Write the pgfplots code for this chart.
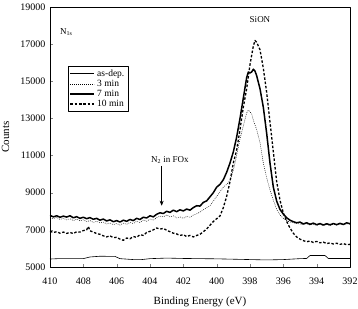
\documentclass[border=0pt]{standalone}
\usepackage{pgfplots}
\pgfplotsset{compat=1.18}
\usetikzlibrary{arrows.meta}
\usepackage{fontspec}
\setmainfont{Liberation Serif}
\begin{document}
\begin{tikzpicture}
\begin{axis}[
  scale only axis, width=300pt, height=260pt,
  xmin=392, xmax=410, ymin=5000, ymax=19000,
  x dir=reverse,
  xtick={392,394,...,410}, ytick={5000,7000,...,19000},
  scaled y ticks=false,
  tick align=inside, major tick length=3pt,
  xtick pos=bottom, ytick pos=left,
  /pgf/number format/1000 sep={},
  /pgf/number format/assume math mode=true,
  tick label style={font=\fontsize{10}{11}\selectfont},
  xticklabel style={yshift=-7pt},
  yticklabel style={xshift=-1pt},
  xlabel={Binding Energy (eV)}, ylabel={Counts},
  label style={font=\fontsize{11}{12}\selectfont},
  xlabel style={at={(axis description cs:0.5,-0.135)}, anchor=center},
  ylabel style={at={(axis description cs:-0.148,0.5)}, anchor=center},
  legend style={at={(0.06,0.773)}, anchor=north west, draw=black, line width=0.4pt,
    font=\fontsize{9.5}{10}\selectfont, inner sep=1.5pt, row sep=-1.8pt,
    legend cell align=left},
  legend image code/.code={\draw[#1] (0pt,0pt) -- (24pt,0pt);},
  no marks, line join=round,
]
% as-dep
\addplot[black, line width=0.6pt] coordinates {
(410,5430)(409.5,5450)(408,5450)(407.6,5540)(407,5580)(406.1,5570)(405.8,5450)(405,5400)(404.5,5400)(404,5450)(403,5480)(402,5460)(400,5440)(398,5400)(397,5380)(396,5400)(395,5450)(394.6,5460)(394.4,5620)(393.5,5620)(393.3,5460)(392,5460)
};
\addlegendentry{as-dep.}
% 3 min
\addplot[black, line width=0.5pt, dash pattern=on 0.8pt off 1.2pt] coordinates {
(410,7640)(409.8,7600)(409.6,7680)(409.4,7560)(409.2,7620)(409,7540)(408.8,7600)(408.6,7500)(408.4,7580)(408.2,7480)(408,7540)(407.8,7440)(407.6,7500)(407.4,7400)(407.2,7460)(407,7380)(406.8,7420)(406.6,7320)(406.4,7380)(406.2,7280)(406,7340)(405.8,7260)(405.6,7360)(405.4,7300)(405.2,7400)(405,7340)(404.8,7460)(404.6,7400)(404.4,7520)(404.2,7460)(404,7580)(403.8,7520)(403.6,7660)(403.4,7740)(403.2,7700)(403,7800)(402.8,7700)(402.6,7760)(402.4,7640)(402.2,7700)(402,7620)(401.8,7720)(401.6,7680)(401.4,7800)(401.2,7860)(401,7960)(400.8,8080)(400.6,8200)(400.4,8300)(400.2,8550)(400,8800)(399.8,9050)(399.6,9300)(399.4,9450)(399.2,9650)(399,10200)(398.8,11000)(398.6,11900)(398.4,12600)(398.2,13300)(398.1,13450)(398,13350)(397.9,13250)(397.8,12900)(397.6,12400)(397.4,11700)(397.2,10600)(397,9800)(396.8,9150)(396.6,8600)(396.4,8100)(396.2,7800)(396,7620)(395.8,7500)(395.6,7420)(395.4,7380)(395.2,7340)(395,7320)(394.8,7280)(394.6,7330)(394.4,7260)(394.2,7310)(394,7240)(393.8,7300)(393.6,7230)(393.4,7290)(393.2,7240)(393,7300)(392.8,7250)(392.6,7310)(392.4,7260)(392.2,7330)(392,7300)
};
\addlegendentry{3 min}
% 7 min
\addplot[black, line width=1.5pt] coordinates {
(410,7780)(409.8,7700)(409.6,7760)(409.4,7680)(409.2,7740)(409,7690)(408.8,7760)(408.6,7650)(408.4,7710)(408.2,7620)(408,7680)(407.8,7600)(407.6,7660)(407.4,7570)(407.2,7620)(407,7520)(406.8,7580)(406.6,7480)(406.4,7540)(406.2,7440)(406,7500)(405.8,7420)(405.6,7520)(405.4,7460)(405.2,7560)(405,7500)(404.8,7620)(404.6,7560)(404.4,7680)(404.2,7640)(404,7760)(403.8,7700)(403.6,7840)(403.4,7920)(403.2,7880)(403,8000)(402.8,7940)(402.6,8060)(402.4,7980)(402.2,8080)(402,8020)(401.8,8120)(401.6,8060)(401.4,8200)(401.2,8300)(401,8280)(400.8,8480)(400.6,8560)(400.4,8780)(400.2,9000)(400,9300)(399.8,9450)(399.6,9700)(399.4,10100)(399.2,10600)(399,11200)(398.8,12000)(398.6,13000)(398.4,14100)(398.2,15200)(398.1,15500)(398,15450)(397.9,15500)(397.8,15650)(397.7,15550)(397.6,15300)(397.4,14600)(397.2,13600)(397,12200)(396.8,10600)(396.6,9300)(396.4,8550)(396.2,8100)(396,7850)(395.8,7650)(395.6,7520)(395.4,7440)(395.2,7380)(395,7420)(394.8,7320)(394.6,7380)(394.4,7300)(394.2,7360)(394,7280)(393.8,7340)(393.6,7260)(393.4,7330)(393.2,7270)(393,7340)(392.8,7280)(392.6,7350)(392.4,7290)(392.2,7380)(392,7330)
};
\addlegendentry{7 min}
% 10 min
\addplot[black, line width=1.3pt, dash pattern=on 2.5pt off 1.8pt] coordinates {
(410,6920)(409.8,6860)(409.6,6900)(409.4,6820)(409.2,6880)(409,6810)(408.8,6860)(408.6,6800)(408.4,6900)(408.2,6880)(408,6960)(407.8,7000)(407.7,7180)(407.6,6950)(407.4,6880)(407.2,6800)(407,6760)(406.8,6680)(406.6,6620)(406.4,6680)(406.2,6580)(406,6600)(405.8,6500)(405.6,6440)(405.4,6560)(405.2,6520)(405,6640)(404.8,6600)(404.6,6740)(404.4,6700)(404.2,6860)(404,6920)(403.8,7000)(403.6,7100)(403.4,7040)(403.2,7080)(403,6980)(402.8,6900)(402.6,6820)(402.4,6780)(402.2,6700)(402,6740)(401.8,6640)(401.6,6700)(401.4,6620)(401.2,6700)(401,6760)(400.8,6900)(400.6,7050)(400.4,7250)(400.2,7450)(400,7600)(399.8,7750)(399.6,8200)(399.4,8800)(399.2,9600)(399,10600)(398.8,11300)(398.6,12400)(398.4,13600)(398.2,14600)(398,15900)(397.9,16400)(397.8,16900)(397.7,17200)(397.6,17100)(397.5,16900)(397.4,16700)(397.2,15700)(397,14400)(396.8,12800)(396.6,11200)(396.4,9600)(396.2,8600)(396,7900)(395.8,7450)(395.6,7100)(395.4,6820)(395.2,6620)(395,6500)(394.8,6420)(394.6,6360)(394.4,6400)(394.2,6320)(394,6380)(393.8,6300)(393.6,6340)(393.4,6260)(393.2,6300)(393,6240)(392.8,6280)(392.6,6220)(392.4,6260)(392.2,6200)(392,6220)
};
\addlegendentry{10 min}
\node[font=\fontsize{9}{10}\selectfont, anchor=west] at (axis cs:409.6,17650) {N\textsubscript{1s}};
\node[font=\fontsize{9}{10}\selectfont] at (axis cs:397.4,18350) {SiON};
\node[font=\fontsize{9}{10}\selectfont] at (axis cs:402.8,10780) {N\textsubscript{2} in FOx};
\draw[-{Stealth[length=5pt,width=4pt]}, line width=0.6pt] (axis cs:403.3,10450) -- (axis cs:403.3,8300);
\end{axis}
\pgfresetboundingbox
\path[use as bounding box] (-50pt,-41pt) rectangle (308pt,267pt);
\end{tikzpicture}
\end{document}
